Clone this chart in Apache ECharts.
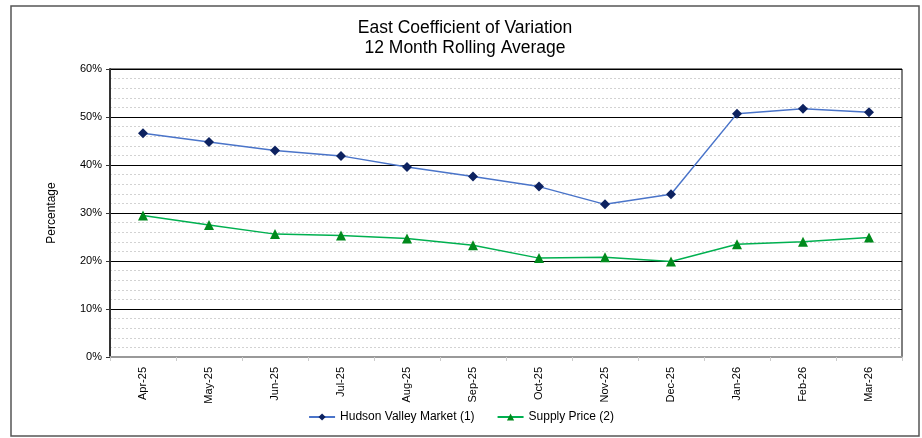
<!DOCTYPE html>
<html>
<head>
<meta charset="utf-8">
<script src="https://cdn.jsdelivr.net/npm/echarts@6/dist/echarts.min.js"></script>
<style>
  html, body { margin: 0; padding: 0; background: #fff; }
  #chart { width: 922px; height: 438px; }
</style>
</head>
<body>
<div id="chart"></div>
<script>
// months on the x axis
const months = ['Apr-25', 'May-25', 'Jun-25', 'Jul-25', 'Aug-25', 'Sep-25',
  'Oct-25', 'Nov-25', 'Dec-25', 'Jan-26', 'Feb-26', 'Mar-26'];

// values in percent
const hudsonValley = [46.6, 44.8, 43.0, 41.9, 39.6, 37.6, 35.5, 31.8, 33.9, 50.7, 51.7, 51.0];
const supplyPrice = [29.5, 27.5, 25.6, 25.3, 24.7, 23.3, 20.6, 20.8, 19.9, 23.5, 24.0, 24.9];

const chart = echarts.init(document.getElementById('chart'));
const font = 'Liberation Sans, Arial, sans-serif';

chart.setOption({
  animation: false,
  textStyle: { fontFamily: font },
  title: {
    text: 'East Coefficient of Variation\n12 Month Rolling Average',
    left: 460,
    textAlign: 'center',
    top: 13,
    textStyle: { fontSize: 17.5, fontWeight: 'normal', color: '#000', lineHeight: 20, fontFamily: font }
  },
  graphic: [{
    type: 'rect',
    shape: { x: 11, y: 6, width: 908, height: 430 },
    style: { fill: 'none', stroke: '#555', lineWidth: 1.5 },
    silent: true
  }],
  grid: {
    left: 110, right: 20, top: 69, bottom: 81,
    show: true, borderColor: '#000', borderWidth: 1
  },
  legend: {
    bottom: 10,
    left: 'center',
    itemWidth: 26,
    itemHeight: 9,
    itemGap: 22,
    textStyle: { fontSize: 12, color: '#000', fontFamily: font },
    data: ['Hudson Valley Market (1)', 'Supply Price (2)']
  },
  xAxis: {
    type: 'category',
    data: months,
    boundaryGap: true,
    axisLine: { lineStyle: { color: '#999', width: 2 } },
    axisTick: { show: true, length: 4, lineStyle: { color: '#ccc' } },
    axisLabel: { rotate: 90, fontSize: 11, color: '#000', margin: 10, fontFamily: font },
    splitLine: { show: false }
  },
  yAxis: {
    type: 'value',
    min: 0,
    max: 60,
    interval: 10,
    name: 'Percentage',
    nameLocation: 'middle',
    nameGap: 52,
    nameTextStyle: { fontSize: 12, color: '#000', fontFamily: font },
    axisLine: { show: true, lineStyle: { color: '#333', width: 2 } },
    axisTick: { show: true, length: 4, lineStyle: { color: '#333' } },
    axisLabel: { formatter: '{value}%', fontSize: 11, color: '#000', margin: 8, fontFamily: font },
    splitLine: { show: true, lineStyle: { color: '#000', width: 1 } },
    minorTick: { show: false, splitNumber: 5 },
    minorSplitLine: { show: true, lineStyle: { color: '#d2d2d2', type: [2, 2], width: 1 } }
  },
  series: [
    {
      name: 'Hudson Valley Market (1)',
      type: 'line',
      data: hudsonValley,
      symbol: 'diamond',
      symbolSize: 10,
      lineStyle: { color: '#4a74c9', width: 1.5 },
      itemStyle: { color: '#0d2260' },
      z: 3
    },
    {
      name: 'Supply Price (2)',
      type: 'line',
      data: supplyPrice,
      symbol: 'triangle',
      symbolSize: 10,
      lineStyle: { color: '#00b050', width: 1.5 },
      itemStyle: { color: '#008a1c' },
      z: 3
    }
  ]
});
</script>
</body>
</html>
